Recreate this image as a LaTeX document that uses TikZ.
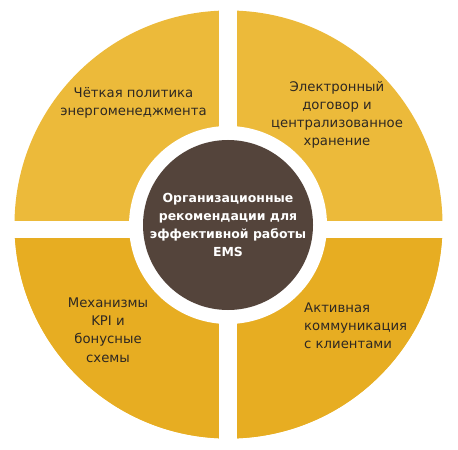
\documentclass[tikz,border=0pt]{standalone}
\usepackage{fontspec}
\setmainfont{DejaVu Sans}
\usepackage{tikz}
\usetikzlibrary{positioning}
\definecolor{sunlight}{HTML}{ECBA3A}
\definecolor{amber}{HTML}{E7AD22}
\definecolor{cocoa}{HTML}{54443B}
\definecolor{ink}{HTML}{2E2822}
\tikzstyle{caption}=[text=ink, align=center, inner sep=0pt,
		font=\fontsize{13.3}{18.3}\selectfont]
\tikzstyle{hub}=[circle, fill=cocoa, text=white, minimum size=170bp,
		align=center, inner sep=0pt, font=\bfseries\fontsize{12.5}{18.3}\selectfont]

\begin{document}
\begin{tikzpicture}[x=1bp,y=-1bp]
    \useasboundingbox (0,0) rectangle (458,450);

    % outer ring, upper and lower halves
    \fill[sunlight] (228.5,224.5) circle (214);
    \begin{scope}
      \clip (0,229.5) rectangle (458,450);
      \fill[amber] (228.5,224.5) circle (214);
    \end{scope}

    % white gaps between the quarters
    \fill[white] (219.3,0) rectangle (236.7,450);
    \fill[white] (0,220.7) rectangle (458,238.3);
    \fill[white] (228,225) circle (99);

    \node (Hub) [hub] at (228,225) {
      Организационные\\
      рекомендации для\\
      эффективной работы\\
      EMS};

    \node (Policy) [caption] at (133.5,103) {
      Чёткая политика\\
      энергоменеджмента};

    \node (Contract) [caption] at (337,114.7) {
      Электронный\\
      договор и\\
      централизованное\\
      хранение};

    \node (Bonus) [caption] at (108,330) {
      Механизмы\\
      KPI и\\
      бонусные\\
      схемы};

    \node (Clients) [caption, align=left, anchor=west] at (304,326) {
      Активная\\
      коммуникация\\
      с клиентами};

  \end{tikzpicture}
\end{document}
